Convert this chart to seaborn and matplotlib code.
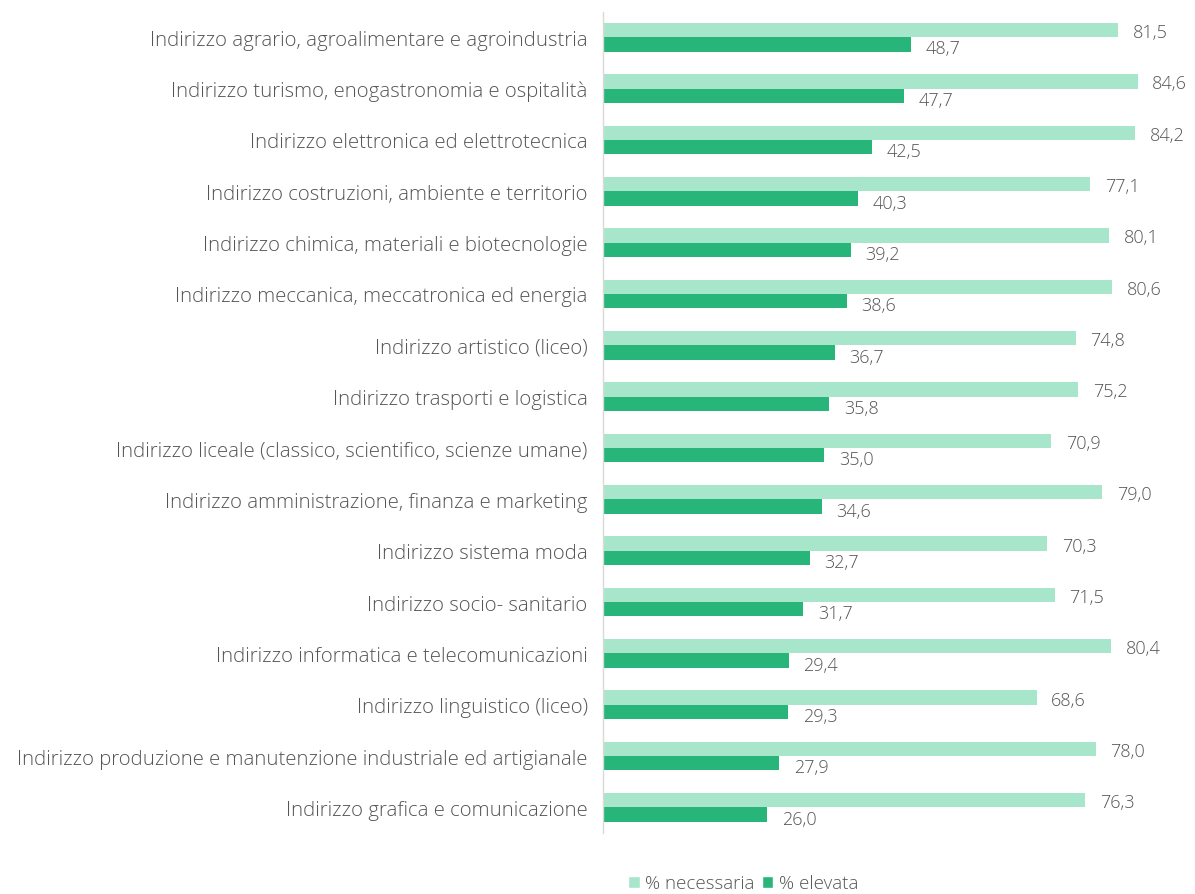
import matplotlib
matplotlib.use("Agg")
import matplotlib.pyplot as plt
import seaborn as sns
import pandas as pd
from matplotlib.patches import Patch

categories = [
    "Indirizzo agrario, agroalimentare e agroindustria",
    "Indirizzo turismo, enogastronomia e ospitalità",
    "Indirizzo elettronica ed elettrotecnica",
    "Indirizzo costruzioni, ambiente e territorio",
    "Indirizzo chimica, materiali e biotecnologie",
    "Indirizzo meccanica, meccatronica ed energia",
    "Indirizzo artistico (liceo)",
    "Indirizzo trasporti e logistica",
    "Indirizzo liceale (classico, scientifico, scienze umane)",
    "Indirizzo amministrazione, finanza e marketing",
    "Indirizzo sistema moda",
    "Indirizzo socio- sanitario",
    "Indirizzo informatica e telecomunicazioni",
    "Indirizzo linguistico (liceo)",
    "Indirizzo produzione e manutenzione industriale ed artigianale",
    "Indirizzo grafica e comunicazione",
]
necessaria = [81.5, 84.6, 84.2, 77.1, 80.1, 80.6, 74.8, 75.2, 70.9, 79.0, 70.3, 71.5, 80.4, 68.6, 78.0, 76.3]
elevata = [48.7, 47.7, 42.5, 40.3, 39.2, 38.6, 36.7, 35.8, 35.0, 34.6, 32.7, 31.7, 29.4, 29.3, 27.9, 26.0]
series_names = ["% necessaria", "% elevata"]

light = "#A8E6CB"
dark = "#27B57A"
text_col = "#555555"

df = pd.DataFrame({
    "cat": categories * 2,
    "val": necessaria + elevata,
    "serie": [series_names[0]] * len(categories) + [series_names[1]] * len(categories),
})

sns.set_style("white")
plt.rcParams["font.family"] = ["Open Sans", "DejaVu Sans"]
plt.rcParams["font.weight"] = "light"

fig = plt.figure(figsize=(11.95, 8.95), dpi=100)
ax = fig.add_axes([0.5046, 0.068, 0.476, 0.918])

sns.barplot(data=df, y="cat", x="val", hue="serie", orient="h",
            palette=[light, dark], width=0.56, ax=ax, legend=False,
            saturation=1, linewidth=0)

ax.set_xlim(0, 90)
ax.set_ylim(len(categories) - 0.5, -0.5)
ax.set_xlabel("")
ax.set_ylabel("")
ax.set_xticks([])
for s in ["top", "right", "bottom"]:
    ax.spines[s].set_visible(False)
ax.spines["left"].set_color("#D9D9D9")
ax.spines["left"].set_linewidth(1)
ax.tick_params(axis="y", length=0, pad=11, labelsize=14.7, labelcolor=text_col)

for cont, vals, dy in zip(ax.containers, [necessaria, elevata], [0.0, 0.04]):
    for bar, v in zip(cont, vals):
        yc = bar.get_y() + bar.get_height() / 2
        ax.text(bar.get_width() + 2.3, yc + dy, f"{v:.1f}".replace(".", ","),
                va="center_baseline", ha="left", fontsize=13, color=text_col)

handles = [Patch(facecolor=light, label=series_names[0]),
           Patch(facecolor=dark, label=series_names[1])]
fig.legend(handles=handles, loc="center", bbox_to_anchor=(0.622, 0.012),
           ncol=2, frameon=False, fontsize=13.5, labelcolor=text_col,
           handlelength=0.6, handleheight=0.6, handletextpad=0.3, columnspacing=0.4)

fig.savefig("out.png", dpi=100, facecolor="white")
